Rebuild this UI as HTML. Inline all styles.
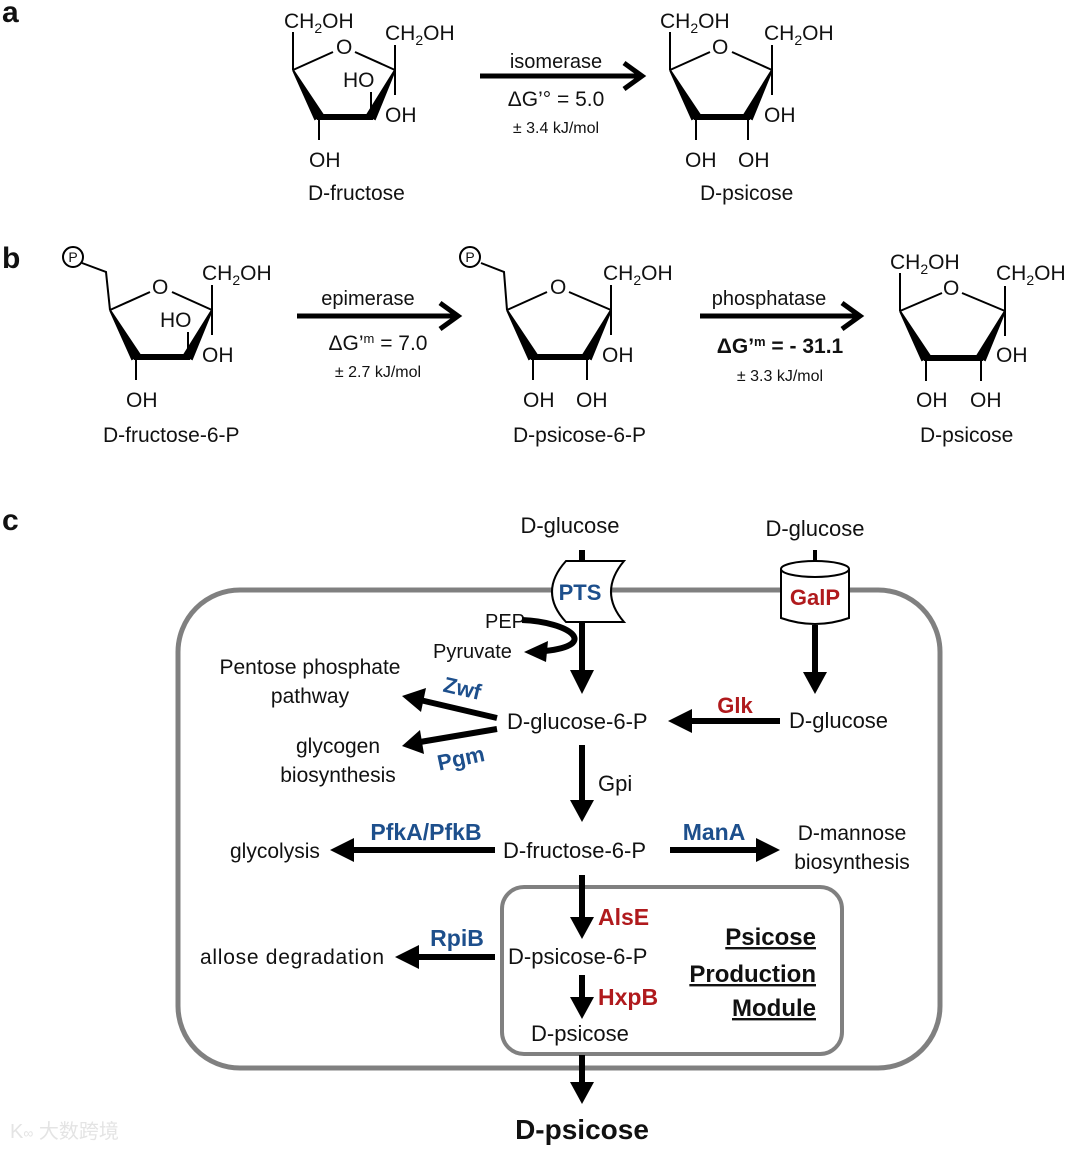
<!DOCTYPE html>
<html><head><meta charset="utf-8"><style>
html,body{margin:0;padding:0;background:#fff;}
svg{display:block;}
text{font-family:"Liberation Sans","DejaVu Sans",sans-serif;fill:#111;}
.b{font-weight:bold;}
.blue{fill:#1d4f8c;font-weight:bold;}
.red{fill:#b01a1d;font-weight:bold;}
.ch{font-size:21px;}
</style></head><body>
<svg width="1080" height="1149" viewBox="0 0 1080 1149" xmlns="http://www.w3.org/2000/svg">
<text x="2" y="22" font-size="30" class="b">a</text>
<text x="2" y="268" font-size="30" class="b">b</text>
<text x="2" y="530" font-size="30" class="b">c</text>

<g transform="translate(293,70)" stroke="#000" stroke-width="2" fill="none">
<line x1="0" y1="0" x2="40" y2="-18"/><line x1="62" y1="-18" x2="102" y2="0"/>
<polygon points="0,0 22,49 30,45" fill="#000"/><polygon points="102,0 74,45 82,49" fill="#000"/>
<rect x="24" y="44" width="56" height="6" fill="#000" stroke="none"/>
<line x1="0" y1="0" x2="0" y2="-38"/><line x1="102" y1="0" x2="102" y2="-25"/>
<line x1="102" y1="0" x2="102" y2="25"/><line x1="26" y1="47" x2="26" y2="70"/>
<line x1="78" y1="47" x2="78" y2="22"/>
</g>
<g class="ch">
<text x="284" y="28">CH<tspan font-size="14" dy="5">2</tspan><tspan dy="-5">OH</tspan></text>
<text x="385" y="40">CH<tspan font-size="14" dy="5">2</tspan><tspan dy="-5">OH</tspan></text>
<text x="336" y="54">O</text>
<text x="343" y="87">HO</text>
<text x="385" y="122">OH</text>
<text x="309" y="167">OH</text>
</g>
<text x="308" y="200" font-size="21">D-fructose</text>

<line x1="480" y1="76" x2="640" y2="76" stroke="#000" stroke-width="5"/>
<polyline points="624,63 642,76 624,89" fill="none" stroke="#000" stroke-width="5"/>
<text x="556" y="68" font-size="20" text-anchor="middle">isomerase</text>
<text x="556" y="106" font-size="21" text-anchor="middle">ΔG’° = 5.0</text>
<text x="556" y="133" font-size="16" text-anchor="middle">± 3.4 kJ/mol</text>

<g transform="translate(670,70)" stroke="#000" stroke-width="2" fill="none">
<line x1="0" y1="0" x2="40" y2="-18"/><line x1="62" y1="-18" x2="102" y2="0"/>
<polygon points="0,0 22,49 30,45" fill="#000"/><polygon points="102,0 74,45 82,49" fill="#000"/>
<rect x="24" y="44" width="56" height="6" fill="#000" stroke="none"/>
<line x1="0" y1="0" x2="0" y2="-38"/><line x1="102" y1="0" x2="102" y2="-25"/>
<line x1="102" y1="0" x2="102" y2="25"/><line x1="26" y1="47" x2="26" y2="70"/>
<line x1="78" y1="47" x2="78" y2="70"/>
</g>
<g class="ch">
<text x="660" y="28">CH<tspan font-size="14" dy="5">2</tspan><tspan dy="-5">OH</tspan></text>
<text x="764" y="40">CH<tspan font-size="14" dy="5">2</tspan><tspan dy="-5">OH</tspan></text>
<text x="712" y="54">O</text>
<text x="764" y="122">OH</text>
<text x="685" y="167">OH</text>
<text x="738" y="167">OH</text>
</g>
<text x="700" y="200" font-size="21">D-psicose</text>

<g transform="translate(110,310)" stroke="#000" stroke-width="2" fill="none">
<line x1="0" y1="0" x2="40" y2="-18"/><line x1="62" y1="-18" x2="102" y2="0"/>
<polygon points="0,0 22,49 30,45" fill="#000"/><polygon points="102,0 74,45 82,49" fill="#000"/>
<rect x="24" y="44" width="56" height="6" fill="#000" stroke="none"/>
<polyline points="0,0 -4,-38 -28,-47"/>
<circle cx="-37" cy="-53" r="10"/>
<line x1="102" y1="0" x2="102" y2="-25"/>
<line x1="102" y1="0" x2="102" y2="25"/><line x1="26" y1="47" x2="26" y2="70"/>
<line x1="78" y1="47" x2="78" y2="22"/>
</g>
<text x="73" y="262" font-size="14" text-anchor="middle">P</text>
<g class="ch">
<text x="202" y="280">CH<tspan font-size="14" dy="5">2</tspan><tspan dy="-5">OH</tspan></text>
<text x="152" y="294">O</text>
<text x="160" y="327">HO</text>
<text x="202" y="362">OH</text>
<text x="126" y="407">OH</text>
</g>
<text x="103" y="442" font-size="21">D-fructose-6-P</text>

<line x1="297" y1="316" x2="455" y2="316" stroke="#000" stroke-width="5"/>
<polyline points="440,303 458,316 440,329" fill="none" stroke="#000" stroke-width="5"/>
<text x="368" y="305" font-size="20" text-anchor="middle">epimerase</text>
<text x="378" y="350" font-size="21" text-anchor="middle">ΔG’<tspan font-size="13" dy="-7">m</tspan><tspan dy="7"> = 7.0</tspan></text>
<text x="378" y="377" font-size="16" text-anchor="middle">± 2.7 kJ/mol</text>

<g transform="translate(507,310)" stroke="#000" stroke-width="2" fill="none">
<line x1="0" y1="0" x2="40" y2="-18"/><line x1="62" y1="-18" x2="104" y2="0"/>
<polygon points="0,0 22,49 30,45" fill="#000"/><polygon points="104,0 76,45 84,49" fill="#000"/>
<rect x="24" y="44" width="58" height="6" fill="#000" stroke="none"/>
<polyline points="0,0 -3,-38 -26,-47"/>
<circle cx="-37" cy="-53" r="10"/>
<line x1="104" y1="0" x2="104" y2="-25"/>
<line x1="104" y1="0" x2="104" y2="25"/><line x1="26" y1="47" x2="26" y2="70"/>
<line x1="80" y1="47" x2="80" y2="70"/>
</g>
<text x="470" y="262" font-size="14" text-anchor="middle">P</text>
<g class="ch">
<text x="603" y="280">CH<tspan font-size="14" dy="5">2</tspan><tspan dy="-5">OH</tspan></text>
<text x="550" y="294">O</text>
<text x="602" y="362">OH</text>
<text x="523" y="407">OH</text>
<text x="576" y="407">OH</text>
</g>
<text x="513" y="442" font-size="21">D-psicose-6-P</text>

<line x1="700" y1="316" x2="857" y2="316" stroke="#000" stroke-width="5"/>
<polyline points="842,303 860,316 842,329" fill="none" stroke="#000" stroke-width="5"/>
<text x="769" y="305" font-size="20" text-anchor="middle">phosphatase</text>
<text x="780" y="353" font-size="21" text-anchor="middle" class="b">ΔG’<tspan font-size="13" dy="-7">m</tspan><tspan dy="7"> = - 31.1</tspan></text>
<text x="780" y="381" font-size="16" text-anchor="middle">± 3.3 kJ/mol</text>

<g transform="translate(900,311)" stroke="#000" stroke-width="2" fill="none">
<line x1="0" y1="0" x2="42" y2="-18"/><line x1="62" y1="-18" x2="105" y2="0"/>
<polygon points="0,0 22,49 30,45" fill="#000"/><polygon points="105,0 77,45 85,49" fill="#000"/>
<rect x="24" y="44" width="59" height="6" fill="#000" stroke="none"/>
<line x1="0" y1="0" x2="0" y2="-38"/><line x1="105" y1="0" x2="105" y2="-25"/>
<line x1="105" y1="0" x2="105" y2="25"/><line x1="26" y1="47" x2="26" y2="70"/>
<line x1="81" y1="47" x2="81" y2="70"/>
</g>
<g class="ch">
<text x="890" y="269">CH<tspan font-size="14" dy="5">2</tspan><tspan dy="-5">OH</tspan></text>
<text x="996" y="280">CH<tspan font-size="14" dy="5">2</tspan><tspan dy="-5">OH</tspan></text>
<text x="943" y="295">O</text>
<text x="996" y="362">OH</text>
<text x="916" y="407">OH</text>
<text x="970" y="407">OH</text>
</g>
<text x="920" y="442" font-size="21">D-psicose</text>

<rect x="178" y="590" width="762" height="478" rx="62" fill="none" stroke="#808080" stroke-width="5"/>
<rect x="502" y="887" width="340" height="167" rx="22" fill="none" stroke="#808080" stroke-width="4"/>

<text x="570" y="533" font-size="22" text-anchor="middle">D-glucose</text>
<text x="815" y="536" font-size="22" text-anchor="middle">D-glucose</text>

<line x1="582" y1="550" x2="582" y2="672" stroke="#000" stroke-width="6"/>
<polygon points="570,670 594,670 582,694" fill="#000"/>
<path d="M566,561 L624,561 Q598,592 624,622 L566,622 Q538,592 566,561 Z" fill="#fff" stroke="#000" stroke-width="2"/>
<line x1="582" y1="550" x2="582" y2="561" stroke="#000" stroke-width="6"/>
<line x1="582" y1="622" x2="582" y2="640" stroke="#000" stroke-width="6"/>
<text x="580" y="600" font-size="22" class="blue" text-anchor="middle">PTS</text>
<text x="485" y="628" font-size="20">PEP</text>
<text x="433" y="658" font-size="20">Pyruvate</text>
<path d="M522,620 C570,622 600,645 545,651" fill="none" stroke="#000" stroke-width="6"/>
<polygon points="524,652 548,641 546,662" fill="#000"/>

<line x1="815" y1="550" x2="815" y2="565" stroke="#000" stroke-width="4"/>
<path d="M781,569 L781,618 Q815,630 849,618 L849,569" fill="#fff" stroke="#000" stroke-width="2"/>
<ellipse cx="815" cy="569" rx="34" ry="8" fill="#fff" stroke="#000" stroke-width="2"/>
<text x="815" y="605" font-size="22" class="red" text-anchor="middle">GalP</text>
<line x1="815" y1="625" x2="815" y2="674" stroke="#000" stroke-width="6"/>
<polygon points="803,672 827,672 815,694" fill="#000"/>

<text x="789" y="728" font-size="22">D-glucose</text>
<line x1="780" y1="721" x2="688" y2="721" stroke="#000" stroke-width="6"/>
<polygon points="692,709 692,733 668,721" fill="#000"/>
<text x="735" y="713" font-size="22" class="red" text-anchor="middle">Glk</text>

<text x="507" y="729" font-size="22">D-glucose-6-P</text>

<line x1="497" y1="718" x2="420" y2="700" stroke="#000" stroke-width="6"/>
<polygon points="402,696 426,688 421,712" fill="#000"/>
<line x1="497" y1="729" x2="420" y2="742" stroke="#000" stroke-width="6"/>
<polygon points="402,746 420,730 424,754" fill="#000"/>
<text x="443" y="696" font-size="22" class="blue" transform="rotate(13 463 690)">Zwf</text>
<text x="437" y="766" font-size="22" class="blue" transform="rotate(-12 460 758)">Pgm</text>
<text x="310" y="674" font-size="21" text-anchor="middle">Pentose phosphate</text>
<text x="310" y="703" font-size="21" text-anchor="middle">pathway</text>
<text x="338" y="753" font-size="21" text-anchor="middle">glycogen</text>
<text x="338" y="782" font-size="21" text-anchor="middle">biosynthesis</text>

<line x1="582" y1="745" x2="582" y2="802" stroke="#000" stroke-width="6"/>
<polygon points="570,800 594,800 582,822" fill="#000"/>
<text x="598" y="791" font-size="22">Gpi</text>

<text x="503" y="858" font-size="22">D-fructose-6-P</text>
<line x1="495" y1="850" x2="350" y2="850" stroke="#000" stroke-width="6"/>
<polygon points="354,838 354,862 330,850" fill="#000"/>
<text x="426" y="840" font-size="23" class="blue" text-anchor="middle">PfkA/PfkB</text>
<text x="230" y="858" font-size="21">glycolysis</text>
<line x1="670" y1="850" x2="760" y2="850" stroke="#000" stroke-width="6"/>
<polygon points="756,838 756,862 780,850" fill="#000"/>
<text x="714" y="840" font-size="23" class="blue" text-anchor="middle">ManA</text>
<text x="852" y="840" font-size="21" text-anchor="middle">D-mannose</text>
<text x="852" y="869" font-size="21" text-anchor="middle">biosynthesis</text>

<line x1="582" y1="875" x2="582" y2="920" stroke="#000" stroke-width="6"/>
<polygon points="570,917 594,917 582,939" fill="#000"/>
<text x="598" y="925" font-size="23" class="red">AlsE</text>
<text x="508" y="964" font-size="22">D-psicose-6-P</text>
<line x1="495" y1="957" x2="415" y2="957" stroke="#000" stroke-width="6"/>
<polygon points="419,945 419,969 395,957" fill="#000"/>
<text x="457" y="946" font-size="23" class="blue" text-anchor="middle">RpiB</text>
<text x="200" y="964" font-size="21" textLength="184">allose degradation</text>

<line x1="582" y1="975" x2="582" y2="1000" stroke="#000" stroke-width="6"/>
<polygon points="570,997 594,997 582,1019" fill="#000"/>
<text x="598" y="1005" font-size="23" class="red">HxpB</text>
<text x="531" y="1041" font-size="22">D-psicose</text>

<text x="816" y="945" font-size="24" class="b" text-anchor="end" text-decoration="underline">Psicose</text>
<text x="816" y="982" font-size="24" class="b" text-anchor="end" text-decoration="underline">Production</text>
<text x="816" y="1016" font-size="24" class="b" text-anchor="end" text-decoration="underline">Module</text>

<line x1="582" y1="1055" x2="582" y2="1085" stroke="#000" stroke-width="6"/>
<polygon points="570,1082 594,1082 582,1104" fill="#000"/>
<text x="582" y="1139" font-size="28" class="b" text-anchor="middle">D-psicose</text>

<text x="10" y="1138" font-size="20" style="fill:#e4e4e4;font-family:'Liberation Sans','Noto Sans CJK SC',sans-serif">K<tspan font-size="14">∞</tspan> 大数跨境</text>
</svg>
</body></html>
